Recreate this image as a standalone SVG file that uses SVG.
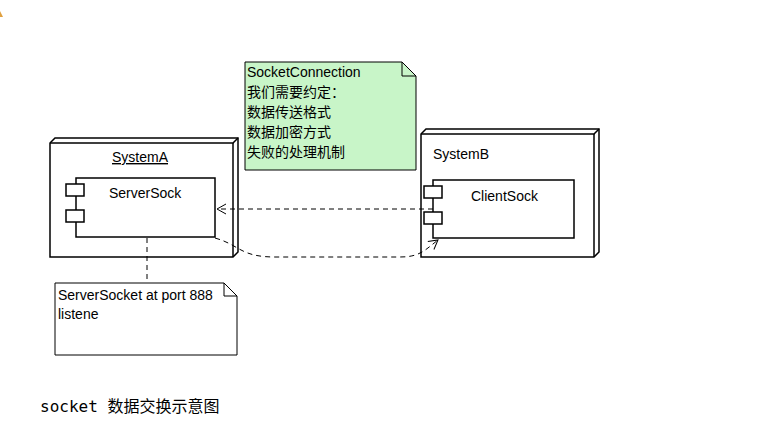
<svg xmlns="http://www.w3.org/2000/svg" width="764" height="443" viewBox="0 0 764 443">
<style>
.l{fill:none;stroke:#000;stroke-width:1.5}
.w{fill:#fff;stroke:#000;stroke-width:1.5}
.t{font-family:"Liberation Sans","Noto Sans CJK SC",sans-serif;font-size:14px;fill:#000}
.d{fill:none;stroke:#000;stroke-width:1;stroke-dasharray:5,4}
</style>
<defs>
<marker id="open" markerWidth="12" markerHeight="12" refX="10" refY="6" orient="auto" markerUnits="userSpaceOnUse">
<path d="M1,1 L10,6 L1,11" fill="none" stroke="#000" stroke-width="1"/>
</marker>
</defs>
<rect width="764" height="443" fill="#fff"/>
<polygon points="0,11 3,17 0,17" fill="#e0a040"/>
<g id="systemA">
<polygon class="w" points="50,143 55,138 238,138 238,252 233,257 50,257"/>
<polyline class="l" points="50,143 233,143 238,138"/><line class="l" x1="233" y1="143" x2="233" y2="257"/>
<text class="t" x="112" y="162" text-decoration="underline">SystemA</text>
</g>
<g id="serverSock">
<rect class="w" x="76" y="178" width="139" height="59"/>
<rect class="w" x="66" y="184" width="18" height="12"/>
<rect class="w" x="66" y="210" width="18" height="12"/>
<text class="t" x="109" y="198">ServerSock</text>
</g>
<g id="systemB">
<polygon class="w" points="421,134 426,129 599,129 599,252 594,257 421,257"/>
<polyline class="l" points="421,134 594,134 599,129"/><line class="l" x1="594" y1="134" x2="594" y2="257"/>
<text class="t" x="433" y="159">SystemB</text>
</g>
<g id="clientSock">
<rect class="w" x="433" y="180" width="141" height="58"/>
<rect class="w" x="424" y="186" width="18" height="12"/>
<rect class="w" x="424" y="212" width="18" height="12"/>
<text class="t" x="471" y="201">ClientSock</text>
</g>
<g id="noteConnection">
<path d="M245,62 L402,62 L416,76 L416,170 L245,170 Z" fill="#c8f5c8" stroke="#000"/>
<path d="M402,62 L402,76 L416,76" fill="none" stroke="#000"/>
<text class="t" x="247" y="77">SocketConnection</text>
<text class="t" x="247" y="97">我们需要约定：</text>
<text class="t" x="247" y="117">数据传送格式</text>
<text class="t" x="247" y="137">数据加密方式</text>
<text class="t" x="247" y="157">失败的处理机制</text>
</g>
<g id="noteListen">
<path d="M55,283 L224,283 L237,296 L237,355 L55,355 Z" fill="#fff" stroke="#000"/>
<path d="M224,283 L224,296 L237,296" fill="none" stroke="#000"/>
<text class="t" x="58" y="300">ServerSocket at port 888</text>
<text class="t" x="58" y="319">listene</text>
</g>
<g id="connectors">
<line class="d" x1="147" y1="238" x2="147" y2="283"/>
<line class="d" x1="433" y1="209" x2="217" y2="209" marker-end="url(#open)"/>
<path class="d" d="M215,238 C240,245 240,257 275,257 L400,257 C420,257 425,250 438,240" marker-end="url(#open)"/>
</g>
<text x="40" y="412" style="font-family:'DejaVu Sans Mono','Noto Sans CJK SC',monospace;font-size:16px">socket 数据交换示意图</text>
</svg>
